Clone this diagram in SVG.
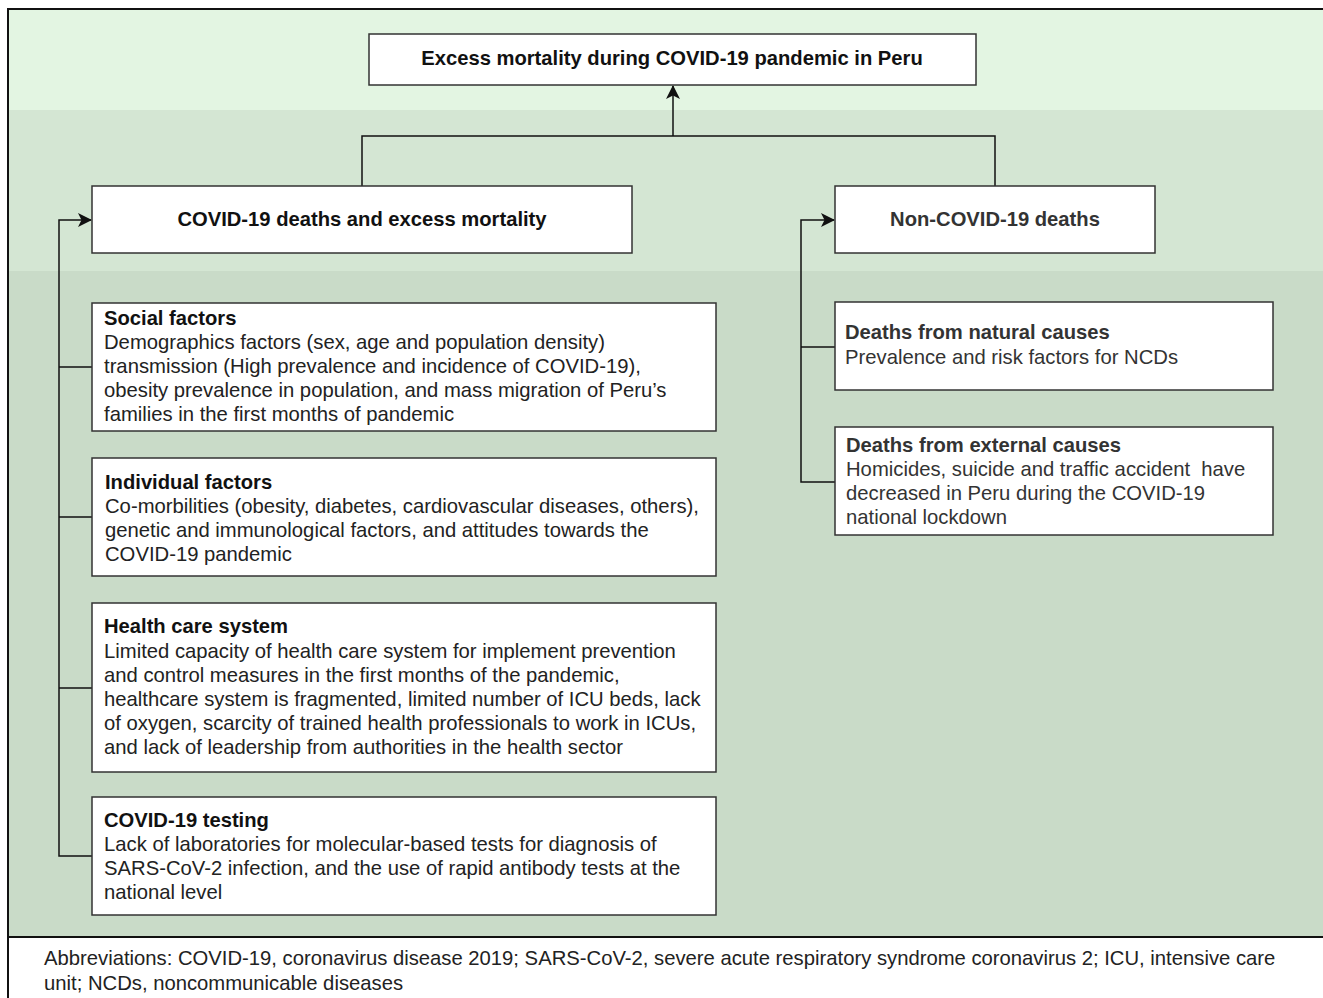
<svg xmlns="http://www.w3.org/2000/svg" width="1323" height="998" viewBox="0 0 1323 998">
<style>
.box{fill:#fff;stroke:#333;stroke-width:1.5}
.hd{font-family:"Liberation Sans",Arial,sans-serif;font-size:20.2px;font-weight:bold;fill:#111}
.tx{font-family:"Liberation Sans",Arial,sans-serif;font-size:20.25px;fill:#222}
.g{fill:#333}
.ln{fill:none;stroke:#111;stroke-width:1.5}
</style>
<defs>
<marker id="arr" viewBox="0 0 14 14" refX="13" refY="7" markerWidth="14" markerHeight="14" markerUnits="userSpaceOnUse" orient="auto">
<path d="M0,0 L14,7 L0,14 L3.5,7 Z" fill="#111"/>
</marker>
</defs>
<g id="background">
<rect x="8" y="9" width="1325" height="1000" fill="#fff" stroke="#111" stroke-width="2"/>
<rect x="9" y="10" width="1314" height="100" fill="#e3f5e2"/>
<rect x="9" y="110" width="1314" height="161" fill="#d4e6d3"/>
<rect x="9" y="271" width="1314" height="666" fill="#c9dbc8"/>
<line x1="8" y1="937" x2="1323" y2="937" stroke="#111" stroke-width="2"/>
</g>
<g id="connectors">
<path class="ln" d="M362,186 V136 H995 V186"/>
<path class="ln" d="M673,136 V86" marker-end="url(#arr)"/>
<path class="ln" d="M92,856 H59 V220 H91" marker-end="url(#arr)"/>
<path class="ln" d="M59,367 H92 M59,517 H92 M59,688 H92"/>
<path class="ln" d="M835,482 H801 V220 H834" marker-end="url(#arr)"/>
<path class="ln" d="M801,347 H835"/>
</g>
<g id="title">
<rect class="box" x="369" y="34" width="607" height="51"/>
<text class="hd" x="672" y="65" text-anchor="middle">Excess mortality during COVID-19 pandemic in Peru</text>
</g>
<g id="covid-deaths">
<rect class="box" x="92" y="186" width="540" height="67"/>
<text class="hd" x="362" y="226" text-anchor="middle">COVID-19 deaths and excess mortality</text>
</g>
<g id="non-covid-deaths">
<rect class="box" x="835" y="186" width="320" height="67"/>
<text class="hd g" x="995" y="226" text-anchor="middle">Non-COVID-19 deaths</text>
</g>
<g id="social-factors">
<rect class="box" x="92" y="303" width="624" height="128"/>
<text class="hd" x="104" y="325">Social factors</text>
<text class="tx" x="104" y="349">Demographics factors (sex, age and population density)</text>
<text class="tx" x="104" y="373">transmission (High prevalence and incidence of COVID-19),</text>
<text class="tx" x="104" y="397">obesity prevalence in population, and mass migration of Peru’s</text>
<text class="tx" x="104" y="421">families in the first months of pandemic</text>
</g>
<g id="individual-factors">
<rect class="box" x="92" y="458" width="624" height="118"/>
<text class="hd" x="105" y="489">Individual factors</text>
<text class="tx" x="105" y="513">Co-morbilities (obesity, diabetes, cardiovascular diseases, others),</text>
<text class="tx" x="105" y="537">genetic and immunological factors, and attitudes towards the</text>
<text class="tx" x="105" y="561">COVID-19 pandemic</text>
</g>
<g id="health-care-system">
<rect class="box" x="92" y="603" width="624" height="169"/>
<text class="hd" x="104" y="633">Health care system</text>
<text class="tx" x="104" y="658">Limited capacity of health care system for implement prevention</text>
<text class="tx" x="104" y="682">and control measures in the first months of the pandemic,</text>
<text class="tx" x="104" y="706">healthcare system is fragmented, limited number of ICU beds, lack</text>
<text class="tx" x="104" y="730">of oxygen, scarcity of trained health professionals to work in ICUs,</text>
<text class="tx" x="104" y="754">and lack of leadership from authorities in the health sector</text>
</g>
<g id="covid-testing">
<rect class="box" x="92" y="797" width="624" height="118"/>
<text class="hd" x="104" y="827">COVID-19 testing</text>
<text class="tx" x="104" y="851">Lack of laboratories for molecular-based tests for diagnosis of</text>
<text class="tx" x="104" y="875">SARS-CoV-2 infection, and the use of rapid antibody tests at the</text>
<text class="tx" x="104" y="899">national level</text>
</g>
<g id="natural-causes">
<rect class="box" x="835" y="302" width="438" height="88"/>
<text class="hd g" x="845" y="339">Deaths from natural causes</text>
<text class="tx g" x="845" y="364">Prevalence and risk factors for NCDs</text>
</g>
<g id="external-causes">
<rect class="box" x="835" y="427" width="438" height="108"/>
<text class="hd g" x="846" y="452">Deaths from external causes</text>
<text class="tx g" x="846" y="476" xml:space="preserve">Homicides, suicide and traffic accident  have</text>
<text class="tx g" x="846" y="500">decreased in Peru during the COVID-19</text>
<text class="tx g" x="846" y="524">national lockdown</text>
</g>
<g id="abbreviations">
<text class="tx" x="44" y="965">Abbreviations: COVID-19, coronavirus disease 2019; SARS-CoV-2, severe acute respiratory syndrome coronavirus 2; ICU, intensive care</text>
<text class="tx" x="44" y="990">unit; NCDs, noncommunicable diseases</text>
</g>
</svg>
